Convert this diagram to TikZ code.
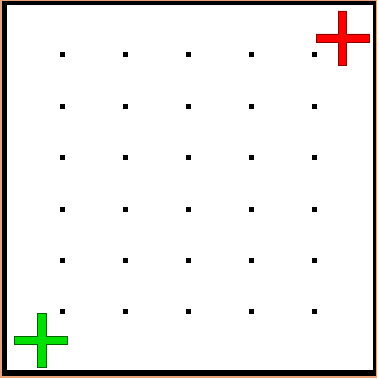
\documentclass[tikz,border=0pt]{standalone}
\definecolor{frameorange}{HTML}{E8A27A}
\definecolor{crossred}{HTML}{FF0000}
\definecolor{crossredline}{HTML}{8B0000}
\definecolor{crossgreen}{HTML}{00E000}
\definecolor{crossgreenline}{HTML}{006400}
\tikzset{
  gdot/.style={fill=black, inner sep=0pt, minimum size=5pt, draw=none, rectangle},
  redcross/.style={fill=crossred, draw=crossredline, line width=0.6pt},
  greencross/.style={fill=crossgreen, draw=crossgreenline, line width=0.6pt}
}
\begin{document}
\begin{tikzpicture}[x=1pt,y=-1pt]
\useasboundingbox (0,0) rectangle (378,379);
\fill[frameorange] (0,0) rectangle (377,378);
\fill[black] (2,1) rectangle (376,376);
\fill[white] (7,5) rectangle (373,370);
\foreach \i/\x in {1/62.7,2/125.7,3/188.7,4/251.3,5/314}{
  \foreach \j/\y in {1/54.7,2/106.3,3/157.7,4/209,5/260.3,6/311.7}{
    \node[gdot] (d\i\j) at (\x,\y) {};
  }
}
% red cross
\draw[redcross] (338,11) -- (346,11) -- (346,34) -- (369,34) -- (369,42) -- (346,42) -- (346,65) -- (338,65) -- (338,42) -- (316,42) -- (316,34) -- (338,34) -- cycle;
% green cross
\draw[greencross] (37,313) -- (46,313) -- (46,336) -- (67,336) -- (67,344) -- (46,344) -- (46,367) -- (37,367) -- (37,344) -- (14,344) -- (14,336) -- (37,336) -- cycle;
\end{tikzpicture}
\end{document}
